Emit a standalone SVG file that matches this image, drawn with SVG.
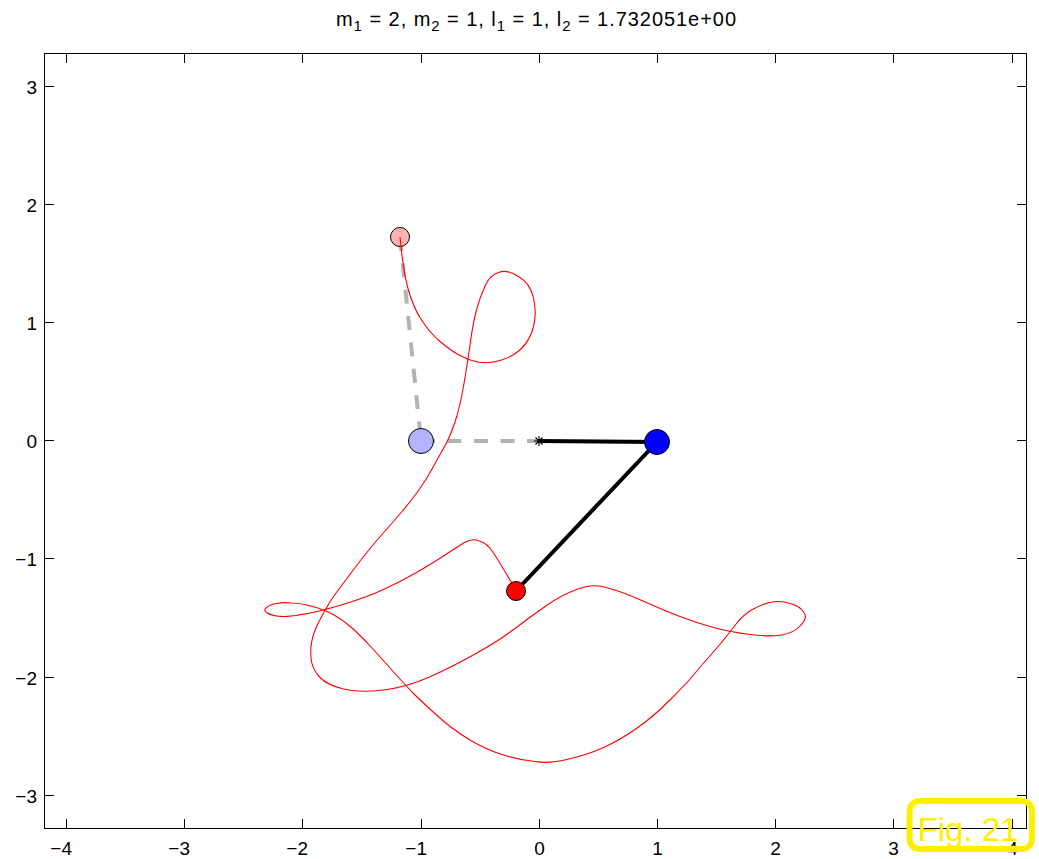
<svg xmlns="http://www.w3.org/2000/svg" width="1039" height="859" viewBox="0 0 1039 859">
<style>
.ax{stroke:#000;stroke-width:1;fill:none}
.lbl{font-family:"Liberation Sans",Arial,sans-serif;font-size:19px;fill:#000}
.ttl{font-family:"Liberation Sans",Arial,sans-serif;font-size:20px;fill:#000}
.sub{font-size:15px}
.dash{stroke:#b3b3b3;stroke-width:4;fill:none;stroke-dasharray:14 12.5}
.rod{stroke:#000;stroke-width:4;fill:none}
.traj{stroke:#ff0000;stroke-width:1.1;fill:none}
.bob{stroke:#000;stroke-width:1}
</style>
<rect width="1039" height="859" fill="#fff"/>
<g id="axes">
<rect class="ax" x="44.5" y="53.5" width="982" height="775"/>
<path class="ax" d="M66.5,828.5v-9.5M184.5,828.5v-9.5M302.5,828.5v-9.5M421.5,828.5v-9.5M539.5,828.5v-9.5M657.5,828.5v-9.5M775.5,828.5v-9.5M893.5,828.5v-9.5M1012.5,828.5v-9.5
M66.5,53.5v9.5M184.5,53.5v9.5M302.5,53.5v9.5M421.5,53.5v9.5M539.5,53.5v9.5M657.5,53.5v9.5M775.5,53.5v9.5M893.5,53.5v9.5M1012.5,53.5v9.5
M44.5,86.5h9.5M44.5,204.5h9.5M44.5,322.5h9.5M44.5,440.5h9.5M44.5,558.5h9.5M44.5,677.5h9.5M44.5,795.5h9.5
M1026.5,86.5h-9.5M1026.5,204.5h-9.5M1026.5,322.5h-9.5M1026.5,440.5h-9.5M1026.5,558.5h-9.5M1026.5,677.5h-9.5M1026.5,795.5h-9.5"/>
<g class="lbl" text-anchor="end">
<text x="72" y="855">−4</text>
<text x="190" y="855">−3</text>
<text x="308" y="855">−2</text>
<text x="427" y="855">−1</text>
</g>
<g class="lbl" text-anchor="middle">
<text x="539.5" y="855">0</text>
<text x="657.5" y="855">1</text>
<text x="775.5" y="855">2</text>
<text x="893.5" y="855">3</text>
<text x="1012.5" y="855">4</text>
</g>
<g class="lbl" text-anchor="end">
<text x="37" y="93.5">3</text>
<text x="37" y="211.5">2</text>
<text x="37" y="329.5">1</text>
<text x="37" y="447.5">0</text>
<text x="37" y="565.5">−1</text>
<text x="37" y="684.5">−2</text>
<text x="37" y="802.5">−3</text>
</g>
</g>
<g id="title">
<text class="ttl" x="336" y="26" textLength="400" lengthAdjust="spacing">m<tspan class="sub" dy="5">1</tspan><tspan dy="-5"> = 2, m</tspan><tspan class="sub" dy="5">2</tspan><tspan dy="-5"> = 1, l</tspan><tspan class="sub" dy="5">1</tspan><tspan dy="-5"> = 1, l</tspan><tspan class="sub" dy="5">2</tspan><tspan dy="-5"> = 1.732051e+00</tspan></text>
</g>
<g id="connectors">
<path class="dash" d="M400,237L421,441"/>
<path class="dash" d="M421,441L539,441"/>
</g>
<g id="bob1-initial"><circle class="bob" cx="421" cy="441" r="12.5" fill="#b3b3ff"/></g>
<g id="bob2-initial"><circle class="bob" cx="400" cy="237" r="9.5" fill="#ffb3b3"/></g>
<g id="trajectory">
<path class="traj" d="M400,237 Q403,270 408,288.5 Q413,307 421.5,320 Q430,333 440,341.5 Q450,350 459,355 Q468,360 477.5,362 Q487,364 500,360.5 Q513,357 521.5,348.5 Q530,340 533.5,326.5 Q537,313 533.5,298 Q530,283 518.5,276.5 Q507,269 498.5,272.5 Q490,275 485,286 Q480,297 476.5,310 Q473,323 470.5,341.5 Q468,360 464,383.5 Q460,407 455,422 Q450,437 444,447.5 Q438,458 432,469 Q426,480 418.5,490.5 Q411,501 402.5,511 Q394,521 385,531 Q376,541 368,551 Q360,561 352.5,571 Q345,581 339,589 Q333,597 329,603.5 Q325,610 319,621.5 Q313,633 311.5,643 Q310,653 311.5,661.5 Q313,670 320,677.5 Q327,685 343.5,689 Q360,693 383.5,690 Q407,687 429.5,677 Q452,667 476,653.5 Q500,640 515,628.5 Q530,617 546.5,605.5 Q563,594 578,589 Q593,583 608,588 Q623,592 643,601 Q663,610 680,616.5 Q697,623 713.5,627.5 Q730,632 750,634.5 Q770,637 781.5,635 Q794,633 800.5,625.5 Q808,618 804,612.5 Q800,606 790,603.5 Q780,600 770,602.5 Q760,605 751.5,610 Q743,615 736.5,623.5 Q730,632 723.5,640 Q717,648 708.5,657.5 Q700,667 693.5,675 Q687,683 670,700 Q653,717 636.5,728.5 Q620,740 603.5,747.5 Q587,755 568.5,759 Q550,764 535,761.5 Q520,760 503.5,755 Q487,750 470,740 Q453,730 436.5,715 Q420,700 413.5,693.5 Q407,687 395,673.5 Q383,660 371.5,647.5 Q360,635 351.5,627.5 Q343,620 334,615 Q325,610 312.5,606.5 Q300,603 291.5,603 Q283,602 276.5,603.5 Q269,605 266.5,607.5 Q263,610 266.5,612.5 Q270,615 276.5,616 Q283,617 291.5,616 Q300,615 312.5,612.5 Q325,610 346,603.5 Q367,597 383.5,589.5 Q400,582 416.5,572.5 Q433,563 445,555 Q457,547 464.5,542.5 Q472,538 479.5,541 Q487,543 493.5,553 Q500,563 516,590"/>
</g>
<g id="rods">
<path class="rod" d="M539,441L657,442L516,591"/>
</g>
<g id="pivot">
<path stroke="#000" stroke-width="1.1" d="M534,441h10M539,436v10M535.5,437.5l7,7M535.5,444.5l7,-7"/>
</g>
<g id="bob1"><circle class="bob" cx="657" cy="442" r="12.5" fill="#0000ff"/></g>
<g id="bob2"><circle class="bob" cx="516" cy="591" r="9.5" fill="#ff0000"/></g>
<g id="figlabel">
<rect x="909.5" y="801" width="122.5" height="48" rx="10" fill="none" stroke="#ffee00" stroke-width="6"/>
<text x="968" y="841" text-anchor="middle" font-family="Liberation Sans,Arial,sans-serif" font-size="33" fill="#ffee00">Fig. 21</text>
</g>
</svg>
